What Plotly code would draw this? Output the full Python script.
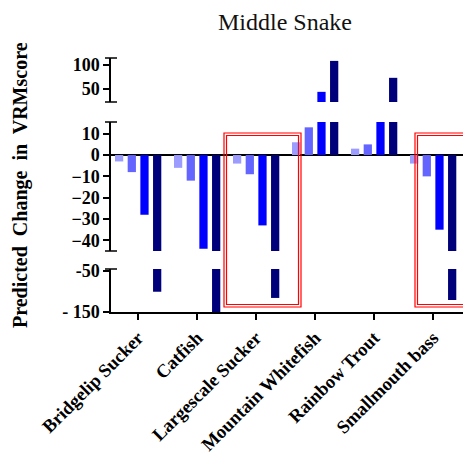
import plotly.graph_objects as go

especies = ["Bridgelip Sucker", "Catfish", "Largescale Sucker",
            "Mountain Whitefish", "Rainbow Trout", "Smallmouth bass"]

serie_1 = [-3, -6, -4, 6, 3, -4]
serie_2 = [-8, -12, -9, 13, 5, -10]
serie_3 = [-28, -44, -33, 44, 18, -35]
serie_4 = [-101, -160, -116, 108, 73, -121]

ticks_topo = [50, 100]
ticks_meio = [10, 0, -10, -20, -30, -40]
ticks_base = [-50, -150]
rotulos_base = ["-50", "- 150"]

CORES = ["#9c9cff", "#6464ff", "#0000ff", "#00007a"]
SERIES = [serie_1, serie_2, serie_3, serie_4]

# a pagina tem 8px de margem no body
OFF = 8
W, H = 471 - OFF, 459 - OFF
ML, MT = 111 - OFF, 58 - OFF
MR = W - (465 - OFF)
MB = H - (312 - OFF)
PW, PH = W - ML - MR, H - MT - MB

FONTE = "Liberation Serif"


def py(p):
    # pixel vertical da referencia -> coordenada paper
    return (H - MB - (p - OFF)) / PH


def px(p):
    return (p - OFF - ML) / PW


fig = go.Figure()
for eixo in ["y", "y2", "y3"]:
    for valores, cor in zip(SERIES, CORES):
        fig.add_trace(go.Bar(
            x=especies, y=valores, yaxis=eixo, xaxis="x",
            marker=dict(color=cor, line=dict(width=0)),
            showlegend=False,
        ))

eixo_y = dict(
    showline=True, linecolor="black", linewidth=1.5,
    ticks="outside", ticklen=6, tickwidth=1.5, tickcolor="black",
    showgrid=False, zeroline=False, anchor="x", automargin=False,
    tickfont=dict(family=FONTE, size=18, color="black", weight="bold"),
)

fig.update_layout(
    width=W, height=H,
    margin=dict(l=ML, r=MR, t=MT, b=MB),
    plot_bgcolor="white", paper_bgcolor="white",
    barmode="group", bargap=0.14, bargroupgap=0.35,
    title=dict(text="Middle Snake", x=(285 - OFF) / W, xanchor="center",
               y=1 - (22 - OFF) / H, yanchor="middle", automargin=False,
               font=dict(family=FONTE, size=24, color="#111")),
    xaxis=dict(
        range=[-0.46, 5.54], anchor="y", automargin=False,
        showline=True, linecolor="black", linewidth=1.5,
        ticks="outside", ticklen=6, tickwidth=1.5, tickcolor="black",
        tickangle=-45, showgrid=False, zeroline=False,
        tickfont=dict(family=FONTE, size=18.5, color="black", weight="bold"),
    ),
    yaxis=dict(eixo_y, domain=[0, py(269)], range=[-150, -46],
               tickvals=ticks_base, ticktext=rotulos_base),
    yaxis2=dict(eixo_y, domain=[py(251), py(122)], range=[-45, 15.5],
                tickvals=ticks_meio, zeroline=True, zerolinecolor="black",
                zerolinewidth=1.5),
    yaxis3=dict(eixo_y, domain=[py(102), 1.0], range=[23, 114],
                tickvals=ticks_topo),
)

# marcas de quebra do eixo
for yy in [1.0, py(102), py(122), py(251), py(269)]:
    fig.add_shape(type="line", xref="paper", yref="paper",
                  x0=-6 / PW, x1=6 / PW, y0=yy, y1=yy,
                  line=dict(color="black", width=1.5))

# caixas vermelhas duplas
for x0, x1 in [(224, 301), (415, 470)]:
    for d in (0, 2.5):
        fig.add_shape(type="rect", xref="paper", yref="paper",
                      x0=px(x0 + d), x1=px(x1 - d), y0=py(307 - d), y1=py(133 + d),
                      line=dict(color="red", width=1.2))

fig.add_annotation(
    text="Predicted  Change  in  VRMscore", textangle=-90,
    xref="paper", yref="paper", x=px(20), y=py(185),
    showarrow=False, xanchor="center", yanchor="middle",
    font=dict(family=FONTE, size=20, color="black", weight="bold"),
)

fig.write_html("out.html")
